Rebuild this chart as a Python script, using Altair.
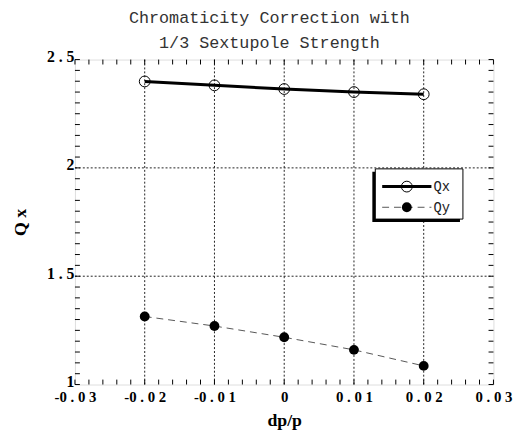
import json
import altair as alt
import pandas as pd

# ---- data ----
dp = [-0.02, -0.01, 0.0, 0.01, 0.02]
qx = [2.399, 2.381, 2.364, 2.350, 2.340]
qy = [1.314, 1.270, 1.218, 1.160, 1.086]

x_major = [-0.03, -0.02, -0.01, 0.0, 0.01, 0.02, 0.03]
x_labels = ["-0 . 0 3", "-0 . 0 2", "-0 . 0 1", "0", "0 . 0 1", "0 . 0 2", "0 . 0 3"]
y_major = [1.0, 1.5, 2.0, 2.5]
y_labels = ["1", "1 . 5", "2", "2 . 5"]
x_grid = [-0.02, -0.01, 0.0, 0.01, 0.02]
y_grid = [1.5, 2.0]
x_minor = [round(-0.03 + 0.002 * i, 3) for i in range(31)]
y_minor = [round(1.0 + 0.05 * i, 2) for i in range(31)]
legend_labels = ["Qx", "Qy"]

W, H = 425, 330
TL = 5  # tick length

xs = alt.Scale(domain=[-0.03, 0.03], nice=False, zero=False)
ys = alt.Scale(domain=[1.0, 2.5], nice=False, zero=False)

df = pd.DataFrame({"dp": dp, "qx": qx, "qy": qy})
dfx_minor = pd.DataFrame({"v": x_minor})
dfy_minor = pd.DataFrame({"v": y_minor})
dfx_grid = pd.DataFrame({"v": x_grid})
dfy_grid = pd.DataFrame({"v": y_grid})
one = pd.DataFrame({"a": [0]})

label_font = "Liberation Serif"
x_expr = f"{json.dumps(x_labels)}[round((datum.value + 0.03) * 100)]"
y_expr = f"{json.dumps(y_labels)}[round((datum.value - 1) * 2)]"

# base layer with axes
base = alt.Chart(df).mark_point(opacity=0).encode(
    x=alt.X("dp:Q", scale=xs, axis=alt.Axis(
        values=x_major, labelExpr=x_expr, title="dp/p", grid=False,
        ticks=False, tickSize=0, domain=False,
        labelFont=label_font, labelFontWeight="bold", labelFontSize=15,
        labelColor="black", labelPadding=5, labelFlush=False,
        titleFont=label_font, titleFontWeight="bold", titleFontSize=18,
        titleColor="black", titlePadding=8)),
    y=alt.Y("qx:Q", scale=ys, axis=alt.Axis(
        values=y_major, labelExpr=y_expr, title="Q x", grid=False,
        ticks=False, tickSize=0, domain=False,
        labelFont=label_font, labelFontWeight="bold", labelFontSize=16,
        labelColor="black", labelPadding=1, labelFlush=False,
        labelBaseline="middle", labelOffset=-3,
        titleFont=label_font, titleFontWeight="bold", titleFontSize=18,
        titleColor="black", titlePadding=17)),
)

grid_style = dict(color="#222", strokeWidth=1, strokeDash=[2, 2])
vgrid = alt.Chart(dfx_grid).mark_rule(**grid_style).encode(
    x=alt.X("v:Q", scale=xs), y=alt.value(0), y2=alt.value(H))
hgrid = alt.Chart(dfy_grid).mark_rule(**grid_style).encode(
    y=alt.Y("v:Q", scale=ys), x=alt.value(0), x2=alt.value(W))

tick_style = dict(color="black", strokeWidth=1)
t_bottom = alt.Chart(dfx_minor).mark_rule(**tick_style).encode(
    x=alt.X("v:Q", scale=xs), y=alt.value(H), y2=alt.value(H - TL))
t_top = alt.Chart(dfx_minor).mark_rule(**tick_style).encode(
    x=alt.X("v:Q", scale=xs), y=alt.value(0), y2=alt.value(TL))
t_left = alt.Chart(dfy_minor).mark_rule(**tick_style).encode(
    y=alt.Y("v:Q", scale=ys), x=alt.value(0), x2=alt.value(TL))
t_right = alt.Chart(dfy_minor).mark_rule(**tick_style).encode(
    y=alt.Y("v:Q", scale=ys), x=alt.value(W), x2=alt.value(W - TL))

qx_line = alt.Chart(df).mark_line(color="black", strokeWidth=3).encode(
    x=alt.X("dp:Q", scale=xs), y=alt.Y("qx:Q", scale=ys))
qx_pts = alt.Chart(df).mark_point(shape="circle", size=120, filled=False,
                                  color="black", strokeWidth=1, opacity=1).encode(
    x=alt.X("dp:Q", scale=xs), y=alt.Y("qx:Q", scale=ys))
qy_line = alt.Chart(df).mark_line(color="#555", strokeWidth=1, strokeDash=[7, 5]).encode(
    x=alt.X("dp:Q", scale=xs), y=alt.Y("qy:Q", scale=ys))
qy_pts = alt.Chart(df).mark_point(shape="circle", size=100, filled=True,
                                  color="black", opacity=1).encode(
    x=alt.X("dp:Q", scale=xs), y=alt.Y("qy:Q", scale=ys))

# legend box (decoration)
lx0, ly0, lx1, ly1 = 305, 111, 394, 162
shadow = alt.Chart(one).mark_rect(color="black").encode(
    x=alt.value(lx0 - 3), x2=alt.value(lx1 - 3), y=alt.value(ly0 + 3), y2=alt.value(ly1 + 3))
box = alt.Chart(one).mark_rect(fill="white", stroke="black", strokeWidth=1).encode(
    x=alt.value(lx0), x2=alt.value(lx1), y=alt.value(ly0), y2=alt.value(ly1))
r1, r2 = 129, 150
lg1 = alt.Chart(one).mark_rule(color="black", strokeWidth=3).encode(
    x=alt.value(312), x2=alt.value(362), y=alt.value(r1))
lp1 = alt.Chart(one).mark_point(shape="circle", size=120, filled=False, color="black",
                                strokeWidth=1, opacity=1).encode(
    x=alt.value(337), y=alt.value(r1))
lg2 = alt.Chart(one).mark_rule(color="#555", strokeWidth=1, strokeDash=[7, 5]).encode(
    x=alt.value(312), x2=alt.value(362), y=alt.value(r2))
lp2 = alt.Chart(one).mark_point(shape="circle", size=100, filled=True, color="black",
                                opacity=1).encode(
    x=alt.value(337), y=alt.value(r2))
txt_style = dict(font="Liberation Mono", fontSize=14, color="#222", align="left",
                 baseline="middle")
lt1 = alt.Chart(one).mark_text(**txt_style).encode(
    x=alt.value(364), y=alt.value(r1), text=alt.value(legend_labels[0]))
lt2 = alt.Chart(one).mark_text(**txt_style).encode(
    x=alt.value(364), y=alt.value(r2 + 1), text=alt.value(legend_labels[1]))

chart = alt.layer(
    base, vgrid, hgrid, t_bottom, t_top, t_left, t_right,
    qy_line, qy_pts, qx_line, qx_pts,
    shadow, box, lg1, lp1, lg2, lp2, lt1, lt2,
).properties(
    width=W, height=H,
    autosize="none",
    padding={"left": 68, "top": 49, "right": 30, "bottom": 55},
    title=alt.Title(
        ["Chromaticity Correction with", "1/3 Sextupole Strength"],
        font="Liberation Mono", fontSize=17, fontWeight="normal", color="#333",
        lineHeight=25, offset=6, dx=-15, dy=9, anchor="middle"),
).configure_view(stroke="black", strokeWidth=1.5).configure(background="white")

chart.save("out.html", embed_options={"renderer": "svg", "actions": False})
